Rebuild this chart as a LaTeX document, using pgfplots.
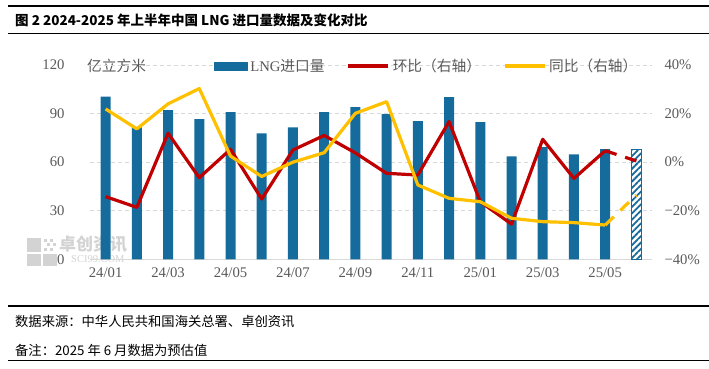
\documentclass[border=0pt]{standalone}
\usepackage{pgfplots}
\pgfplotsset{compat=1.18}
\usetikzlibrary{patterns.meta}
\usepackage{fontspec}
\setmainfont{Liberation Serif}
\newfontfamily\cjk{Noto Sans CJK SC}
\definecolor{barblue}{HTML}{156B9C}
\definecolor{lred}{HTML}{C00000}
\definecolor{lyel}{HTML}{FFC000}
\definecolor{gridgray}{HTML}{D9D9D9}
\definecolor{textgray}{HTML}{595959}
\definecolor{wm}{HTML}{D3D3D3}
\newcommand{\tfont}{\fontsize{14.7}{16}\selectfont}
\begin{document}
\begin{tikzpicture}
\useasboundingbox (0pt,0pt) rectangle (709pt,368pt);
% frame lines
\draw[line width=1.2pt] (8pt,362pt) -- (709pt,362pt);
\draw[line width=1.2pt] (8pt,334.7pt) -- (709pt,334.7pt);
\draw[line width=1.2pt] (8pt,62pt) -- (709pt,62pt);
\draw[line width=1.2pt] (8pt,7.3pt) -- (709pt,7.3pt);
\node[anchor=west,inner sep=0pt] at (15pt,347.3pt) {\cjk\bfseries\fontsize{13.5}{16}\selectfont 图 2 2024-2025 年上半年中国 LNG 进口量数据及变化对比};
\node[anchor=west,inner sep=0pt] at (15pt,46.3pt) {\cjk\fontsize{13.3}{15}\selectfont 数据来源：中华人民共和国海关总署、卓创资讯};
\node[anchor=west,inner sep=0pt] at (15pt,18pt) {\cjk\fontsize{13.3}{15}\selectfont 备注：2025 年 6 月数据为预估值};
% watermark
\fill[wm] (27pt,116pt) rectangle (41pt,130pt);
\fill[wm] (27pt,102pt) rectangle (41pt,114pt);
\fill[wm] (43pt,102pt) rectangle (57pt,114pt);
\fill[wm] (44pt,126pt) rectangle (47pt,129pt);
\fill[wm] (50pt,126pt) rectangle (53pt,129pt);
\fill[wm] (47pt,122pt) rectangle (50pt,125pt);
\fill[wm] (53pt,122pt) rectangle (56pt,125pt);
\fill[wm] (44pt,117pt) rectangle (47pt,120pt);
\fill[wm] (50pt,117pt) rectangle (53pt,120pt);
\node[anchor=west,inner sep=0pt,text=wm] at (59pt,124pt) {\cjk\bfseries\fontsize{17}{18}\selectfont 卓创资讯};
\node[anchor=west,inner sep=0pt,text=wm] at (71pt,109pt) {\fontsize{10.5}{11}\selectfont SCI99.COM};
\node[anchor=west,inner sep=0pt,text=textgray] at (87pt,302pt) {\cjk\tfont 亿立方米};
\begin{axis}[
  at={(90pt,108.7pt)}, anchor=south west, scale only axis,
  width=562pt, height=194.3pt,
  xmin=-0.5, xmax=17.5, ymin=0, ymax=120,
  ytick={0,30,60,90,120},
  axis x line*=bottom, axis y line*=left,
  y axis line style={draw=none},
  x axis line style={draw=gridgray, line width=0.8pt},
  ytick style={draw=none},
  ymajorgrids, grid style={draw=gridgray, line width=0.8pt, dash pattern=on 4pt off 3pt},
  xtick={0,2,4,6,8,10,12,14,16},
  xticklabels={24/01,24/03,24/05,24/07,24/09,24/11,25/01,25/03,25/05},
  major x tick style={draw=none},
  extra x ticks={-0.5,1.5,3.5,5.5,7.5,9.5,11.5,13.5,15.5,17.5},
  extra x tick labels={},
  extra x tick style={grid=none, major tick style={draw=gridgray, line width=0.8pt}},
  tick align=outside, major tick length=5pt,
  tick label style={font=\tfont, text=textgray},
  /pgf/number format/assume math mode=true,
  yticklabel style={xshift=-17pt},
  clip=false,
]
\addplot[ybar, bar width=10pt, bar shift=0pt, fill=barblue, draw=none] coordinates {
(0,100.5) (1,81.5) (2,92.1) (3,86.5) (4,90.9) (5,77.8) (6,81.5) (7,90.9) (8,94.0)
(9,89.6) (10,85.3) (11,100.2) (12,84.7) (13,63.5) (14,69.3) (15,64.8) (16,68.1)};
\addplot[ybar, bar width=10pt, bar shift=0pt, fill=white, draw=none] coordinates {(17,67.9)};
\addplot[ybar, bar width=10pt, bar shift=0pt, draw=barblue, line width=1pt,
  pattern={Lines[angle=45,distance=4.5pt,line width=1.8pt]}, pattern color=barblue] coordinates {(17,67.9)};
\end{axis}
\begin{axis}[
  at={(90pt,108.7pt)}, anchor=south west, scale only axis,
  width=562pt, height=194.3pt,
  xmin=-0.5, xmax=17.5, ymin=-40, ymax=40,
  axis x line=none, axis y line*=right,
  y axis line style={draw=none}, ytick style={draw=none},
  ytick={-40,-20,0,20,40},
  yticklabels={−40\%,−20\%,0\%,20\%,40\%},
  tick label style={font=\tfont, text=textgray},
  yticklabel style={xshift=9pt},
  clip=false,
  legend columns=3,
  legend style={at={(0.599,0.995)}, anchor=center, draw=none, fill=none,
    font=\tfont, text=textgray, inner sep=0pt,
    /tikz/every even column/.append style={column sep=20pt},
    /tikz/every odd column/.append style={column sep=1pt}},
  line join=round,
]
\addlegendimage{legend image code/.code={\fill[barblue] (0pt,-4pt) rectangle (33pt,4pt);}}
\addlegendentry{LNG{\cjk 进口量}}
\addplot[lred, line width=3.2pt, legend image code/.code={\draw[lred, line width=3.2pt] (0pt,0pt) -- (40pt,0pt);}] coordinates {
(0,-14.2) (1,-18.6) (2,11.9) (3,-6.4) (4,5.3) (5,-15.2) (6,5.0) (7,11.0) (8,3.8)
(9,-4.6) (10,-5.3) (11,16.7) (12,-16.3) (13,-25.5) (14,9.4) (15,-6.7) (16,4.7)};
\addlegendentry{{\cjk 环比（右轴）}}
\addplot[lyel, line width=3.2pt, legend image code/.code={\draw[lyel, line width=3.2pt] (0pt,0pt) -- (40pt,0pt);}] coordinates {
(0,21.9) (1,13.7) (2,24.0) (3,30.3) (4,2.5) (5,-5.9) (6,0.0) (7,3.9) (8,20.1)
(9,24.9) (10,-9.4) (11,-14.9) (12,-16.3) (13,-23.1) (14,-24.5) (15,-24.9) (16,-25.9)};
\addlegendentry{{\cjk 同比（右轴）}}
\addplot[lred, line width=3.2pt, dash pattern=on 12pt off 9pt, forget plot] coordinates {(16,4.7) (17,0.5)};
\addplot[lyel, line width=3.2pt, dash pattern=on 12pt off 9pt, forget plot] coordinates {(16,-25.9) (17,-13.5)};
\end{axis}
\end{tikzpicture}
\end{document}
